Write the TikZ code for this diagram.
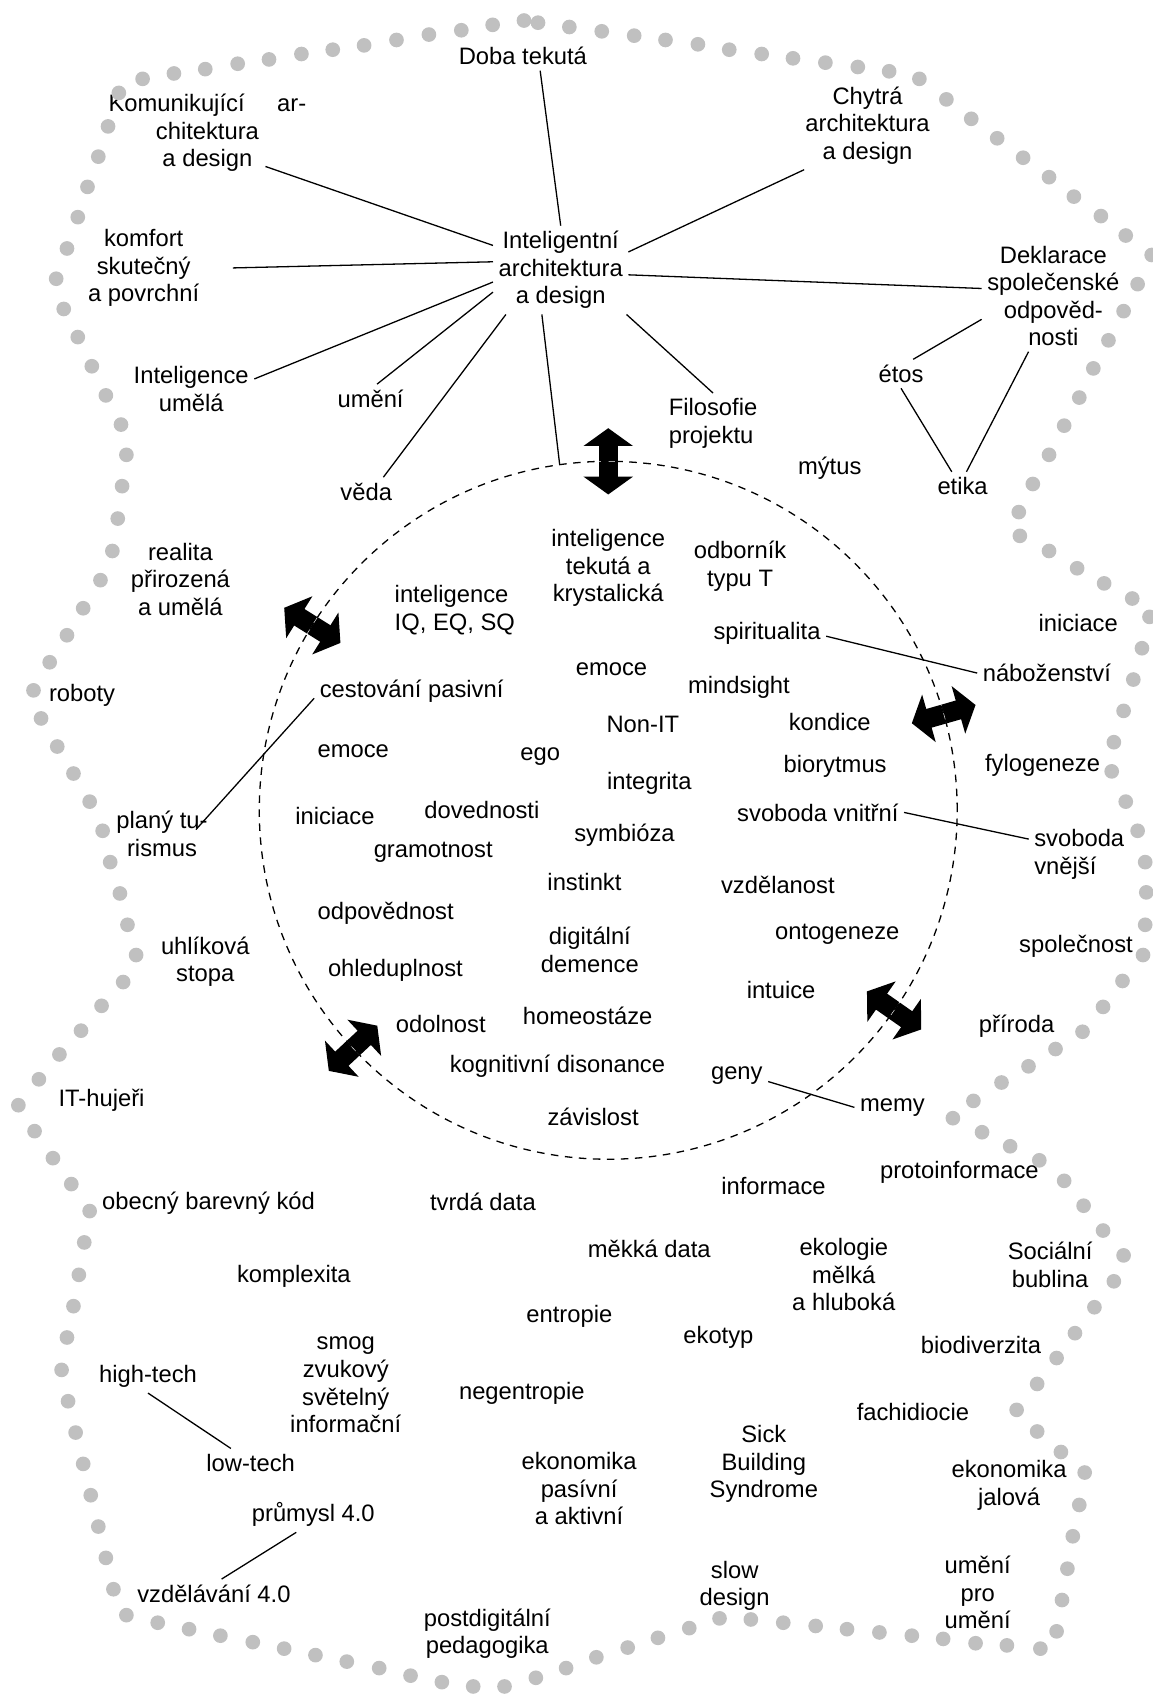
\documentclass[tikz,border=0pt]{standalone}
\usepackage{fontspec}
\setmainfont{Liberation Sans}
\usetikzlibrary{arrows.meta,calc}
\definecolor{dotgray}{RGB}{192,192,192}
\tikzset{
  lbl/.style={align=center, inner sep=5pt, font=\fontsize{22}{25.5}\selectfont},
  lbll/.style={lbl, align=left},
  link/.style={line width=1.2pt},
  bigarrow/.style={line width=18pt, {Triangle[length=16.5pt,width=45pt]}-{Triangle[length=16.5pt,width=45pt]}},
  ringline/.style={line width=1.2pt, dash pattern=on 7pt off 6pt, preaction={draw=white, solid}},
  bead/.style={fill=dotgray}
}
\begin{document}
\begin{tikzpicture}[x=1pt, y=-1pt]
\useasboundingbox (0,0) rectangle (1067,1568);

\node[circle, minimum size=646pt, inner sep=0pt, outer sep=0pt] (ring) at (563,750) {};
\foreach \a in {90,148,16,325,223}
  \draw[bigarrow] ($(ring.center)!0.905!(ring.\a)$) -- ($(ring.center)!1.095!(ring.\a)$);
\draw[ringline] (ring.center) circle[radius=323pt];

\node[lbl] (ida) at (519,250) {Inteligentní\\architektura\\a design};
\node[lbl] (doba) at (484,52) {Doba tekutá};
\node[lbl] (komarch) at (192,123) {\makebox[183pt]{Komunikující\hfill ar-}\\chitektura\\a design};
\node[lbl] (komfort) at (133,248) {komfort\\skutečný\\a povrchní};
\node[lbl] (intum) at (177,360) {Inteligence\\umělá};
\node[lbl] (umeni) at (343,369) {umění};
\node[lbl] (veda) at (339,455) {věda};
\node[lbl] (chytra) at (803,116) {Chytrá\\architektura\\a design};
\node[lbl] (dekl) at (975,274) {Deklarace\\společenské\\odpověd-\\nosti};
\node[lbl] (etos) at (834,346) {étos};
\node[lbl] (etika) at (891,450) {etika};
\node[lbll] (filo) at (660,392) {Filosofie\\projektu};
\node[lbl] (mytus) at (768,433) {mýtus};

\node[lbl] (intkr) at (563,526) {inteligence\\tekutá a\\krystalická};
\node[lbl] (odb) at (685,524) {odborník\\typu T};
\node[lbll] (iq) at (421,565) {inteligence\\IQ, EQ, SQ};
\node[lbl] (spirit) at (710,586) {spiritualita};
\node[lbl] (emoce) at (566,619) {emoce};
\node[lbl] (mind) at (684,636) {mindsight};
\node[lbl] (cest) at (381,640) {cestování pasivní};
\node[lbl] (nonit) at (595,671) {Non-IT};
\node[lbl] (kond) at (768,668) {kondice};
\node[lbl] (emoceb) at (327,695) {emoce};
\node[lbl] (ego) at (500,700) {ego};
\node[lbl] (bior) at (773,709) {biorytmus};
\node[lbl] (integ) at (601,725) {integrita};
\node[lbl] (inic) at (310,755) {iniciace};
\node[lbl] (dov) at (446,750) {dovednosti};
\node[lbl] (svnit) at (757,752) {svoboda vnitřní};
\node[lbl] (symb) at (578,773) {symbióza};
\node[lbl] (gram) at (401,789) {gramotnost};
\node[lbl] (inst) at (541,816) {instinkt};
\node[lbl] (vzdl) at (720,819) {vzdělanost};
\node[lbl] (odp) at (357,845) {odpovědnost};
\node[lbl] (digi) at (546,879) {digitální\\demence};
\node[lbl] (onto) at (775,865) {ontogeneze};
\node[lbl] (ohl) at (366,898) {ohleduplnost};
\node[lbl] (intu) at (723,916) {intuice};
\node[lbl] (odol) at (408,948) {odolnost};
\node[lbl] (homeo) at (544,940) {homeostáze};
\node[lbl] (kogn) at (516,987) {kognitivní disonance};
\node[lbl] (geny) at (682,996) {geny};
\node[lbl] (zav) at (549,1034) {závislost};

\node[lbl] (inicr) at (998,577) {iniciace};
\node[lbl] (nabo) at (969,623) {náboženství};
\node[lbl] (fylo) at (965,708) {fylogeneze};
\node[lbll] (svnej) at (999,791) {svoboda\\vnější};
\node[lbl] (spol) at (996,876) {společnost};
\node[lbl] (prir) at (941,950) {příroda};
\node[lbl] (memy) at (826,1025) {memy};

\node[lbl] (real) at (167,536) {realita\\přirozená\\a umělá};
\node[lbl] (robot) at (76,644) {roboty};
\node[lbl] (plany) at (150,772) {planý tu-\\rismus};
\node[lbl] (uhl) at (190,890) {uhlíková\\stopa};
\node[lbl] (ithuj) at (94,1018) {IT-hujeři};

\node[lbl] (kod) at (193,1114) {obecný barevný kód};
\node[lbl] (tvrd) at (447,1112) {tvrdá data};
\node[lbl] (info) at (716,1098) {informace};
\node[lbl] (proto) at (888,1085) {protoinformace};
\node[lbl] (mekk) at (601,1156) {měkká data};
\node[lbl] (ekol) at (781,1180) {ekologie\\mělká\\a hluboká};
\node[lbl] (socb) at (972,1171) {Sociální\\bublina};
\node[lbl] (kompl) at (272,1181) {komplexita};
\node[lbl] (entr) at (527,1218) {entropie};
\node[lbl] (ekot) at (665,1238) {ekotyp};
\node[lbl] (biod) at (908,1245) {biodiverzita};
\node[lbl] (smog) at (320,1282) {smog\\zvukový\\světelný\\informační};
\node[lbl] (high) at (137,1274) {high-tech};
\node[lbl] (negen) at (483,1290) {negentropie};
\node[lbl] (fach) at (845,1307) {fachidiocie};
\node[lbl] (sbs) at (707,1355) {Sick\\Building\\Syndrome};
\node[lbl] (ekpa) at (536,1378) {ekonomika\\pasívní\\a aktivní};
\node[lbl] (low) at (232,1354) {low-tech};
\node[lbl] (ekja) at (934,1375) {ekonomika\\jalová};
\node[lbl] (prum) at (290,1402) {průmysl 4.0};
\node[lbl] (upu) at (905,1474) {umění\\pro\\umění};
\node[lbl] (slow) at (680,1468) {slow\\design};
\node[lbl] (vzd4) at (198,1475) {vzdělávání 4.0};
\node[lbl] (postd) at (451,1512) {postdigitální\\pedagogika};

\draw[link] (ida.north) -- (doba.-40);
\draw[link] (ida.160) -- ([shift={(-43,-10)}]komarch.south east);
\draw[link] (ida.173) -- ([shift={(26,0)}]komfort.east);
\draw[link] (ida.190) -- (intum.9);
\draw[link] (ida.198) -- (umeni.66);
\draw[link] (ida.219) -- (veda.40);
\draw[link] (ida.247) -- (ring.98);
\draw[link] (ida.15) -- (chytra.215);
\draw[link] (ida.-4) -- (dekl.174);
\draw[link] (ida.-34) -- (filo.north);
\draw[link] (dekl.198) -- (etos.50);
\draw[link] (dekl.246) -- (etika.75);
\draw[link] (etos.south) -- (etika.127);
\draw[link] (spirit.-3) -- (nabo.west);
\draw[link] (svnit.east) -- (svnej.163);
\draw[link] (geny.-10) -- (memy.west);
\draw[link] (cest.184) -- ([shift={(-16,22)}]plany.north east);
\draw[link] (high.south) -- (low.144);
\draw[link] (prum.226) -- (vzd4.62);

\foreach \x/\y in {498/21,527/25,557/29,587/33,616/37,646/41,675/46,705/50,734/54,764/58,
  794/62,823/66,851/73,876/92,899/110,923/128,947/146,971/164,994/182,1019/200,1042/218,
  1066/236,1053/263,1040/288,1026/315,1012/341,999/368,985/394,971/421,956/448,943/474,
  944/496,971/510,997/526,1022/540,1048/554,1064/571,1057/600,1049/629,1040/658,1031/687,
  1029/714,1042/742,1053/769,1060/798,1061/826,1060/856,1058/884,1039/908,1021/932,1002/955,
  977/971,952/987,927/1002,901/1019,882/1035,909/1048,935/1061,962/1074,985/1093,1003/1116,
  1021/1139,1040/1162,1031/1186,1013/1210,995/1234,978/1257,960/1281,941/1305,960/1325,
  982/1344,1004/1363,999/1393,993/1422,988/1452,983/1481,978/1510,963/1526,932/1523,903/1521,
  873/1517,844/1514,814/1511,784/1508,755/1505,725/1502,695/1499,666/1498,638/1507,609/1516,
  581/1525,552/1534,524/1544,496/1553,467/1561,438/1561,409/1557,380/1551,351/1544,321/1538,
  292/1532,263/1526,234/1520,204/1514,175/1508,146/1502,117/1495,105/1471,98/1442,91/1413,
  84/1384,77/1355,70/1326,63/1297,57/1268,62/1238,68/1209,73/1180,78/1150,83/1121,66/1096,
  49/1072,32/1047,17/1023,36/999,55/976,75/954,94/931,114/909,126/884,118/856,111/827,
  102/798,95/769,83/742,68/716,53/691,38/665,31/639,46/613,62/588,77/563,93/537,104/510,
  109/480,113/450,117/421,112/393,98/366,85/339,72/312,59/286,52/258,62/230,72/201,81/173,
  91/145,100/117,110/86,132/73,161/68,190/64,220/59,249/55,279/50,308/46,337/42,367/37,
  397/32,427/28,456/23,485/19}
  \fill[bead] (\x,\y) circle[radius=6.8pt];
\end{tikzpicture}
\end{document}
